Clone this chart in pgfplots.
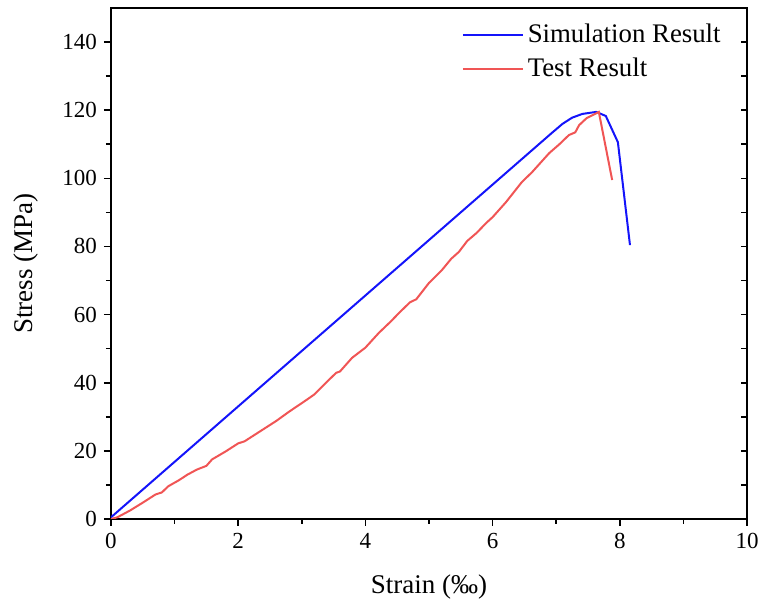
\documentclass[border=0pt]{standalone}
\usepackage{pgfplots}
\pgfplotsset{compat=1.18}
\usepackage{fontspec}
\setmainfont{Liberation Serif}
\definecolor{simblue}{RGB}{20,20,250}
\definecolor{testred}{RGB}{240,85,85}
\begin{document}
\begin{tikzpicture}
\path[use as bounding box] (-55.5pt,-42pt) rectangle (324.5pt,259.5pt);
\begin{axis}[
  at={(0pt,0pt)}, anchor=south west,
  scale only axis, width=318pt, height=255.5pt,
  xmin=0, xmax=10, ymin=0, ymax=150,
  xtick={0,2,...,10}, ytick={0,20,...,140},
  minor xtick={1,3,...,9}, minor ytick={10,30,...,130},
  xtick pos=bottom, ytick pos=left,
  tick align=outside,
  major tick length=3.5pt, minor tick length=2.5pt,
  every tick/.style={black, line width=0.8pt},
  axis line style={line width=1pt},
  hide obscured x ticks=false,
  /pgf/number format/assume math mode=true,
  ticklabel style={font=\fontsize{11.5}{13}\selectfont},
  xlabel={Strain (‰)}, ylabel={Stress (MPa)},
  label style={font=\fontsize{13.5}{15}\selectfont},
  xlabel style={yshift=-6pt},
  ylabel style={yshift=5pt},
  legend style={draw=none, fill=none, at={(1,1)}, anchor=north east, xshift=-8pt, yshift=-4pt,
    font=\fontsize{13.4}{15}\selectfont, row sep=2pt, cells={anchor=west}},
  legend image code/.code={\draw[#1] (0pt,0pt) -- (30pt,0pt);},
]
\addplot[simblue, line width=1pt] coordinates {
(0,0.5) (6.93,113.3) (7.1,116) (7.25,117.8) (7.41,118.9) (7.63,119.5) (7.78,118.3) (7.97,110.6) (8.16,80.4)
};
\addlegendentry{Simulation Result}
\addplot[testred, line width=1pt] coordinates {
(0,0) (0.1,0.5) (0.3,2.5) (0.5,4.8) (0.7,7.2) (0.8,7.8) (0.9,9.6) (1.07,11.4) (1.2,13) (1.35,14.5)
(1.5,15.6) (1.59,17.5) (1.8,19.8) (2.0,22.2) (2.1,22.8) (2.3,25.2) (2.5,27.6) (2.6,28.8) (2.8,31.5)
(3.07,34.9) (3.2,36.6) (3.38,40.0) (3.54,42.9) (3.6,43.3) (3.79,47.3) (4.0,50.3) (4.21,54.6) (4.4,58)
(4.53,60.5) (4.7,63.6) (4.8,64.5) (5.0,69.3) (5.2,73) (5.35,76.4) (5.47,78.4) (5.6,81.6) (5.75,84)
(5.9,86.9) (6.0,88.6) (6.21,93.0) (6.46,98.9) (6.62,101.8) (6.89,107.4) (7.05,110) (7.2,112.7)
(7.3,113.5) (7.36,115.6) (7.48,117.7) (7.6,118.8) (7.67,119.5) (7.88,99.5)
};
\addlegendentry{Test Result}
\end{axis}
\begin{axis}[
  at={(0pt,0pt)}, anchor=south west,
  scale only axis, width=318pt, height=255.5pt,
  xmin=0, xmax=10, ymin=0, ymax=150,
  axis x line=none, axis y line*=right,
  ytick={0,20,...,140}, minor ytick={10,30,...,130},
  yticklabels={}, tick align=inside,
  major tick length=3pt, minor tick length=3pt,
  every tick/.style={black, line width=0.8pt},
  axis line style={line width=1pt, -},
]
\end{axis}
\end{tikzpicture}
\end{document}
